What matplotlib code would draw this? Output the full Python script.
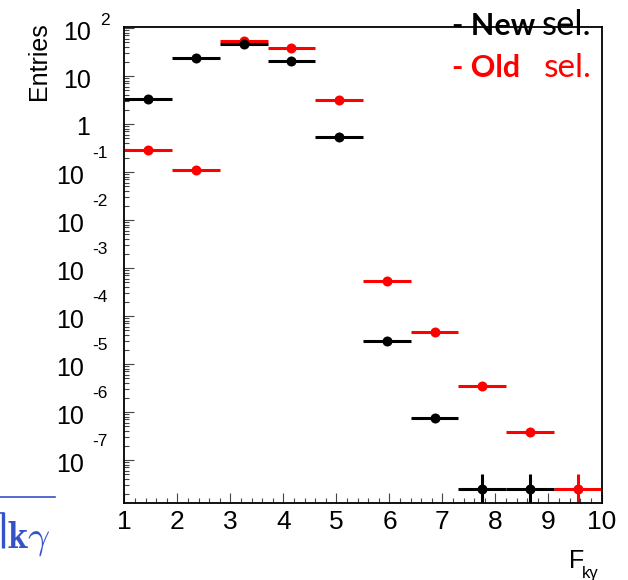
import numpy as np
import matplotlib
matplotlib.use("Agg")
import matplotlib.pyplot as plt
from matplotlib.ticker import FixedLocator, LogLocator, MultipleLocator, NullFormatter
from matplotlib.lines import Line2D

# Histogram binning (10 bins of width 0.9 between 1 and 10)
bin_edges = [1.0, 1.9, 2.8, 3.7, 4.6, 5.5, 6.4, 7.3, 8.2, 9.1, 10.0]

# Bin contents and vertical errors for the two selections (0 = empty bin)
new_sel = [3.3, 24.0, 46.0, 20.5, 0.54, 3.05e-5, 7.4e-7, 2.5e-8, 2.5e-8, 0.0]
new_err = [0, 0, 0, 0, 0, 0, 0, 2.5e-8, 2.5e-8, 0]
old_sel = [0.283, 0.112, 54.0, 38.0, 3.1, 5.4e-4, 4.6e-5, 3.5e-6, 3.9e-7, 2.5e-8]
old_err = [0, 0, 0, 0, 0, 0, 0, 0, 0, 2.5e-8]

x_ticks = [1, 2, 3, 4, 5, 6, 7, 8, 9, 10]
y_exponents = [2, 1, 0, -1, -2, -3, -4, -5, -6, -7]

plt.rcParams["font.family"] = ["Liberation Sans", "DejaVu Sans"]

W, H = 628, 580
fig = plt.figure(figsize=(W / 100, H / 100), dpi=100, facecolor="white")
left, right, top, bottom = 124.4, 601.5, 26.7, 503.0
ax = fig.add_axes([left / W, 1 - bottom / H, (right - left) / W, (bottom - top) / H])

edges = np.array(bin_edges)
centers = 0.5 * (edges[:-1] + edges[1:])
half = 0.5 * np.diff(edges)


def draw(vals, errs, color):
    v = np.array(vals, dtype=float)
    e = np.array(errs, dtype=float)
    keep = v > 0
    ax.errorbar(centers[keep], v[keep], xerr=half[keep], yerr=e[keep],
                fmt="o", color=color, ms=7.2, elinewidth=2.2, capsize=0,
                markeredgewidth=0)


ax.set_yscale("log")
draw(old_sel, old_err, "#ff0000")
draw(new_sel, new_err, "black")

ax.set_xlim(1, 10)
ax.set_ylim(10 ** -7.896, 10 ** 2.027)

for s in ax.spines.values():
    s.set_linewidth(1.3)

ax.xaxis.set_major_locator(FixedLocator(x_ticks))
ax.xaxis.set_minor_locator(MultipleLocator(0.2))
ax.yaxis.set_major_locator(LogLocator(base=10, numticks=20))
ax.yaxis.set_minor_locator(LogLocator(base=10, subs=np.arange(2, 10), numticks=20))
ax.yaxis.set_major_formatter(NullFormatter())
ax.yaxis.set_minor_formatter(NullFormatter())
ax.tick_params(which="both", direction="in", top=False, right=False, width=0.8, color="#444444")
ax.tick_params(which="major", length=7)
ax.tick_params(which="minor", length=3.6)
ax.tick_params(axis="x", labelsize=19, pad=5)
ax.set_xticklabels([str(t) for t in x_ticks])

# ROOT-style power-of-ten labels: base and raised exponent as separate texts
for n in y_exponents:
    ty = H - ax.transData.transform((1.0, 10.0 ** n))[1]  # tick row in image pixels
    if n == 0:
        fig.text(90 / W, 1 - (ty + 11) / H, "1", ha="right", va="baseline", fontsize=18)
    elif n == 1:
        fig.text(91 / W, 1 - (ty + 12) / H, "10", ha="right", va="baseline", fontsize=18)
    elif n > 1:
        fig.text(91 / W, 1 - (ty + 12) / H, "10", ha="right", va="baseline", fontsize=18)
        fig.text(100 / W, 1 - (ty - 3) / H, str(n), ha="left", va="baseline", fontsize=12.5)
    else:
        fig.text(84 / W, 1 - (ty + 12) / H, "10", ha="right", va="baseline", fontsize=18)
        fig.text(92 / W, 1 - (ty - 14) / H, str(n), ha="left", va="baseline", fontsize=12.5)

# Axis titles
fig.text(39 / W, 1 - 22 / H, "Entries", rotation=90, ha="center", va="top", fontsize=18)
fig.text(569 / W, 1 - 568 / H, "F", ha="left", va="baseline", fontsize=18)
fig.text(582 / W, 1 - 578 / H, "kγ", ha="left", va="baseline", fontsize=12)

# Selection labels
leg_font = ["Lato", "DejaVu Sans"]
fig.text(452 / W, 1 - 35 / H, "- New", ha="left", va="baseline", fontsize=22,
         fontweight="bold", family=leg_font, color="black")
fig.text(542 / W, 1 - 35 / H, "sel.", ha="left", va="baseline", fontsize=25,
         family=leg_font, color="black")
fig.text(452 / W, 1 - 77 / H, "- Old", ha="left", va="baseline", fontsize=22,
         fontweight="bold", family=leg_font, color="#ff0000")
fig.text(544 / W, 1 - 77 / H, "sel.", ha="left", va="baseline", fontsize=24,
         family=leg_font, color="#ff0000")

# Partial slide caption in the lower left corner
blue = "#3552c8"
fig.add_artist(Line2D([0, 55 / W], [1 - 496.7 / H] * 2, transform=fig.transFigure,
                      color=blue, lw=1.2))
fig.add_artist(Line2D([2.5 / W, 2.5 / W], [1 - 512 / H, 1 - 548 / H], transform=fig.transFigure,
                      color=blue, lw=2.4, solid_capstyle="butt"))
fig.add_artist(Line2D([0, 4 / W], [1 - 513 / H, 1 - 513 / H], transform=fig.transFigure,
                      color=blue, lw=1.2, solid_capstyle="butt"))
fig.text(7 / W, 1 - 548 / H, r"$\mathbf{k}\gamma$", ha="left", va="baseline", fontsize=28,
         color=blue, math_fontfamily="cm")

fig.savefig("out.png", dpi=100, facecolor="white")
